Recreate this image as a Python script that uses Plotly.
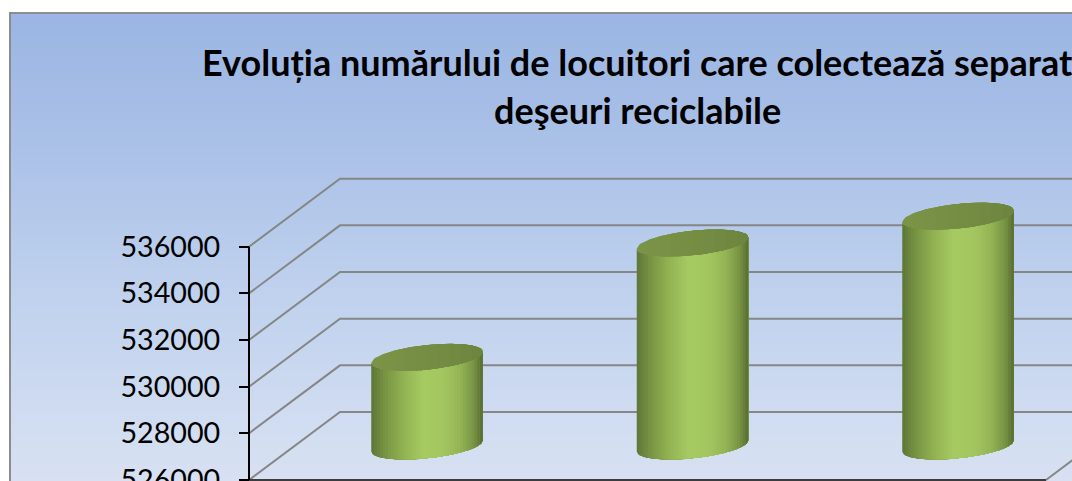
import plotly.graph_objects as go
import numpy as np

# --- data ---
categories = [1, 2, 3]
values = [529800, 534700, 535850]
tick_values = [526000, 528000, 530000, 532000, 534000, 536000]
title_line1 = "Evoluția numărului de locuitori care colectează separat"
title_line2 = "deşeuri reciclabile"

# --- canvas / scale (the chart runs past the bottom of the window) ---
W, H = 1072, 530
VIEW_H = 481
PX_PER_CAT = 265.5
PX_PER_UNIT = 233.3 / 10000
CAT1_PX, Y0_PX = 381.5, 480.0      # front-plane pixel of category 1 and of value 526000
BASE = tick_values[0]


def cx(px):
    return 1 + (px - CAT1_PX) / PX_PER_CAT


def vy(py):
    return BASE + (Y0_PX - py) / PX_PER_UNIT


DX = 91 / PX_PER_CAT               # depth offset of back wall (category units)
DY = 68 / PX_PER_UNIT              # depth offset of back wall (value units)
A = 55.75 / PX_PER_CAT             # cylinder half width
B = 12.3 / PX_PER_UNIT             # ellipse half height
SHEAR = 5.6 / PX_PER_UNIT          # tilt of the ellipse
X_SPINE = cx(249)
X_RIGHT = cx(1046)
X_PAGE = cx(W + 40)

side_stops = [(0.0, (94, 118, 56)), (0.08, (112, 139, 64)), (0.28, (146, 178, 82)),
              (0.47, (167, 203, 99)), (0.65, (164, 198, 96)), (0.8, (148, 180, 86)),
              (0.92, (120, 148, 68)), (1.0, (88, 110, 52))]
top_stops = [(0.0, (124, 148, 72)), (0.5, (118, 142, 68)), (1.0, (110, 132, 64))]


def ramp(stops, f):
    fs = [s[0] for s in stops]
    return "rgb(%d,%d,%d)" % tuple(np.interp(f, fs, [s[1][i] for s in stops]) for i in range(3))


fig = go.Figure()


def line(xs, ys, color, width):
    fig.add_trace(go.Scatter(x=xs, y=ys, mode="lines", hoverinfo="skip",
                             line=dict(color=color, width=width)))


def patch(xs, ys, col):
    fig.add_trace(go.Scatter(x=xs, y=ys, mode="lines", fill="toself", fillcolor=col,
                             line=dict(width=0), hoverinfo="skip"))


# gridlines: diagonal side wall then horizontal back wall
for t in tick_values:
    line([X_SPINE, X_SPINE + DX, X_PAGE], [t, t + DY, t + DY], "#868686", 2)

# floor front edge and right edge
line([X_RIGHT, X_RIGHT + DX], [BASE, BASE + DY], "#868686", 2)
line([X_SPINE, X_RIGHT], [BASE, BASE], "#3c3c3c", 2)

# cylinders: strips painted left to right, each running to the right edge
N = 40
for cat, val in zip(categories, values):
    xc = cat + DX / 2
    v_front = val + DY / 2
    base = BASE + DY / 2
    grid = np.linspace(-1, 1, 81)
    for i in range(N):
        u = grid[2 * i:]
        xs = xc + A * u
        low = -B * np.sqrt(1 - u ** 2) + SHEAR * u
        patch(np.r_[xs, xs[::-1]], np.r_[v_front + low, (base + low)[::-1]],
              ramp(side_stops, (i + 0.5) / N))
    for i in range(0, N, 4):
        u = grid[2 * i:]
        xs = xc + A * u
        r = B * np.sqrt(1 - u ** 2)
        patch(np.r_[xs, xs[::-1]],
              np.r_[v_front + SHEAR * u + r, (v_front + SHEAR * u - r)[::-1]],
              ramp(top_stops, (i + 2) / N))

# value axis spine
line([X_SPINE, X_SPINE], [BASE, tick_values[-1]], "#000000", 2)

# gradient background
shapes = []
top, bottom = 13, VIEW_H + 2
g_stops = [(0.0, (155, 182, 228)), (0.3, (172, 194, 232)), (0.6, (192, 210, 238)),
           (0.92, (212, 223, 242)), (1.0, (217, 225, 243))]
for py in range(top, bottom, 2):
    f = (py - top) / (bottom - top)
    shapes.append(dict(type="rect", xref="paper", yref="paper", layer="below",
                       x0=10 / W, x1=1.01, y0=-0.01, y1=1 - py / H,
                       line=dict(width=0), fillcolor=ramp(g_stops, f)))
# frame
shapes.append(dict(type="rect", xref="paper", yref="paper", layer="below",
                   x0=10 / W, x1=1.05, y0=-0.05, y1=1 - 13 / H,
                   line=dict(color="#8c8c8c", width=2), fillcolor="rgba(0,0,0,0)"))

fig.update_layout(
    width=W, height=H, margin=dict(l=0, r=0, t=0, b=0, pad=0),
    paper_bgcolor="white", plot_bgcolor="rgba(0,0,0,0)", showlegend=False,
    shapes=shapes,
    font=dict(family="Lato", color="black"),
    xaxis=dict(range=[cx(0), cx(W)], visible=False, domain=[0, 1]),
    yaxis=dict(range=[vy(H), vy(0)], domain=[0, 1], anchor="free", position=249 / W,
               tickmode="array", tickvals=tick_values,
               ticktext=[str(t) for t in tick_values],
               showgrid=False, zeroline=False, showline=False,
               ticks="outside", ticklen=10, tickwidth=2, tickcolor="black",
               ticklabelstandoff=13, tickfont=dict(size=28.7, family="Lato", color="black")),
    annotations=[
        dict(text=title_line1, xref="paper", yref="paper", x=637 / W, y=1 - 62 / H,
             xanchor="center", yanchor="middle", showarrow=False,
             font=dict(size=36, family="Lato", color="black", weight=700)),
        dict(text=title_line2, xref="paper", yref="paper", x=637 / W, y=1 - 110 / H,
             xanchor="center", yanchor="middle", showarrow=False,
             font=dict(size=36, family="Lato", color="black", weight=700)),
    ],
)

fig.write_html("out.html", config=dict(displayModeBar=False),
               post_script="document.body.style.margin='0';document.body.style.overflow='hidden';")
